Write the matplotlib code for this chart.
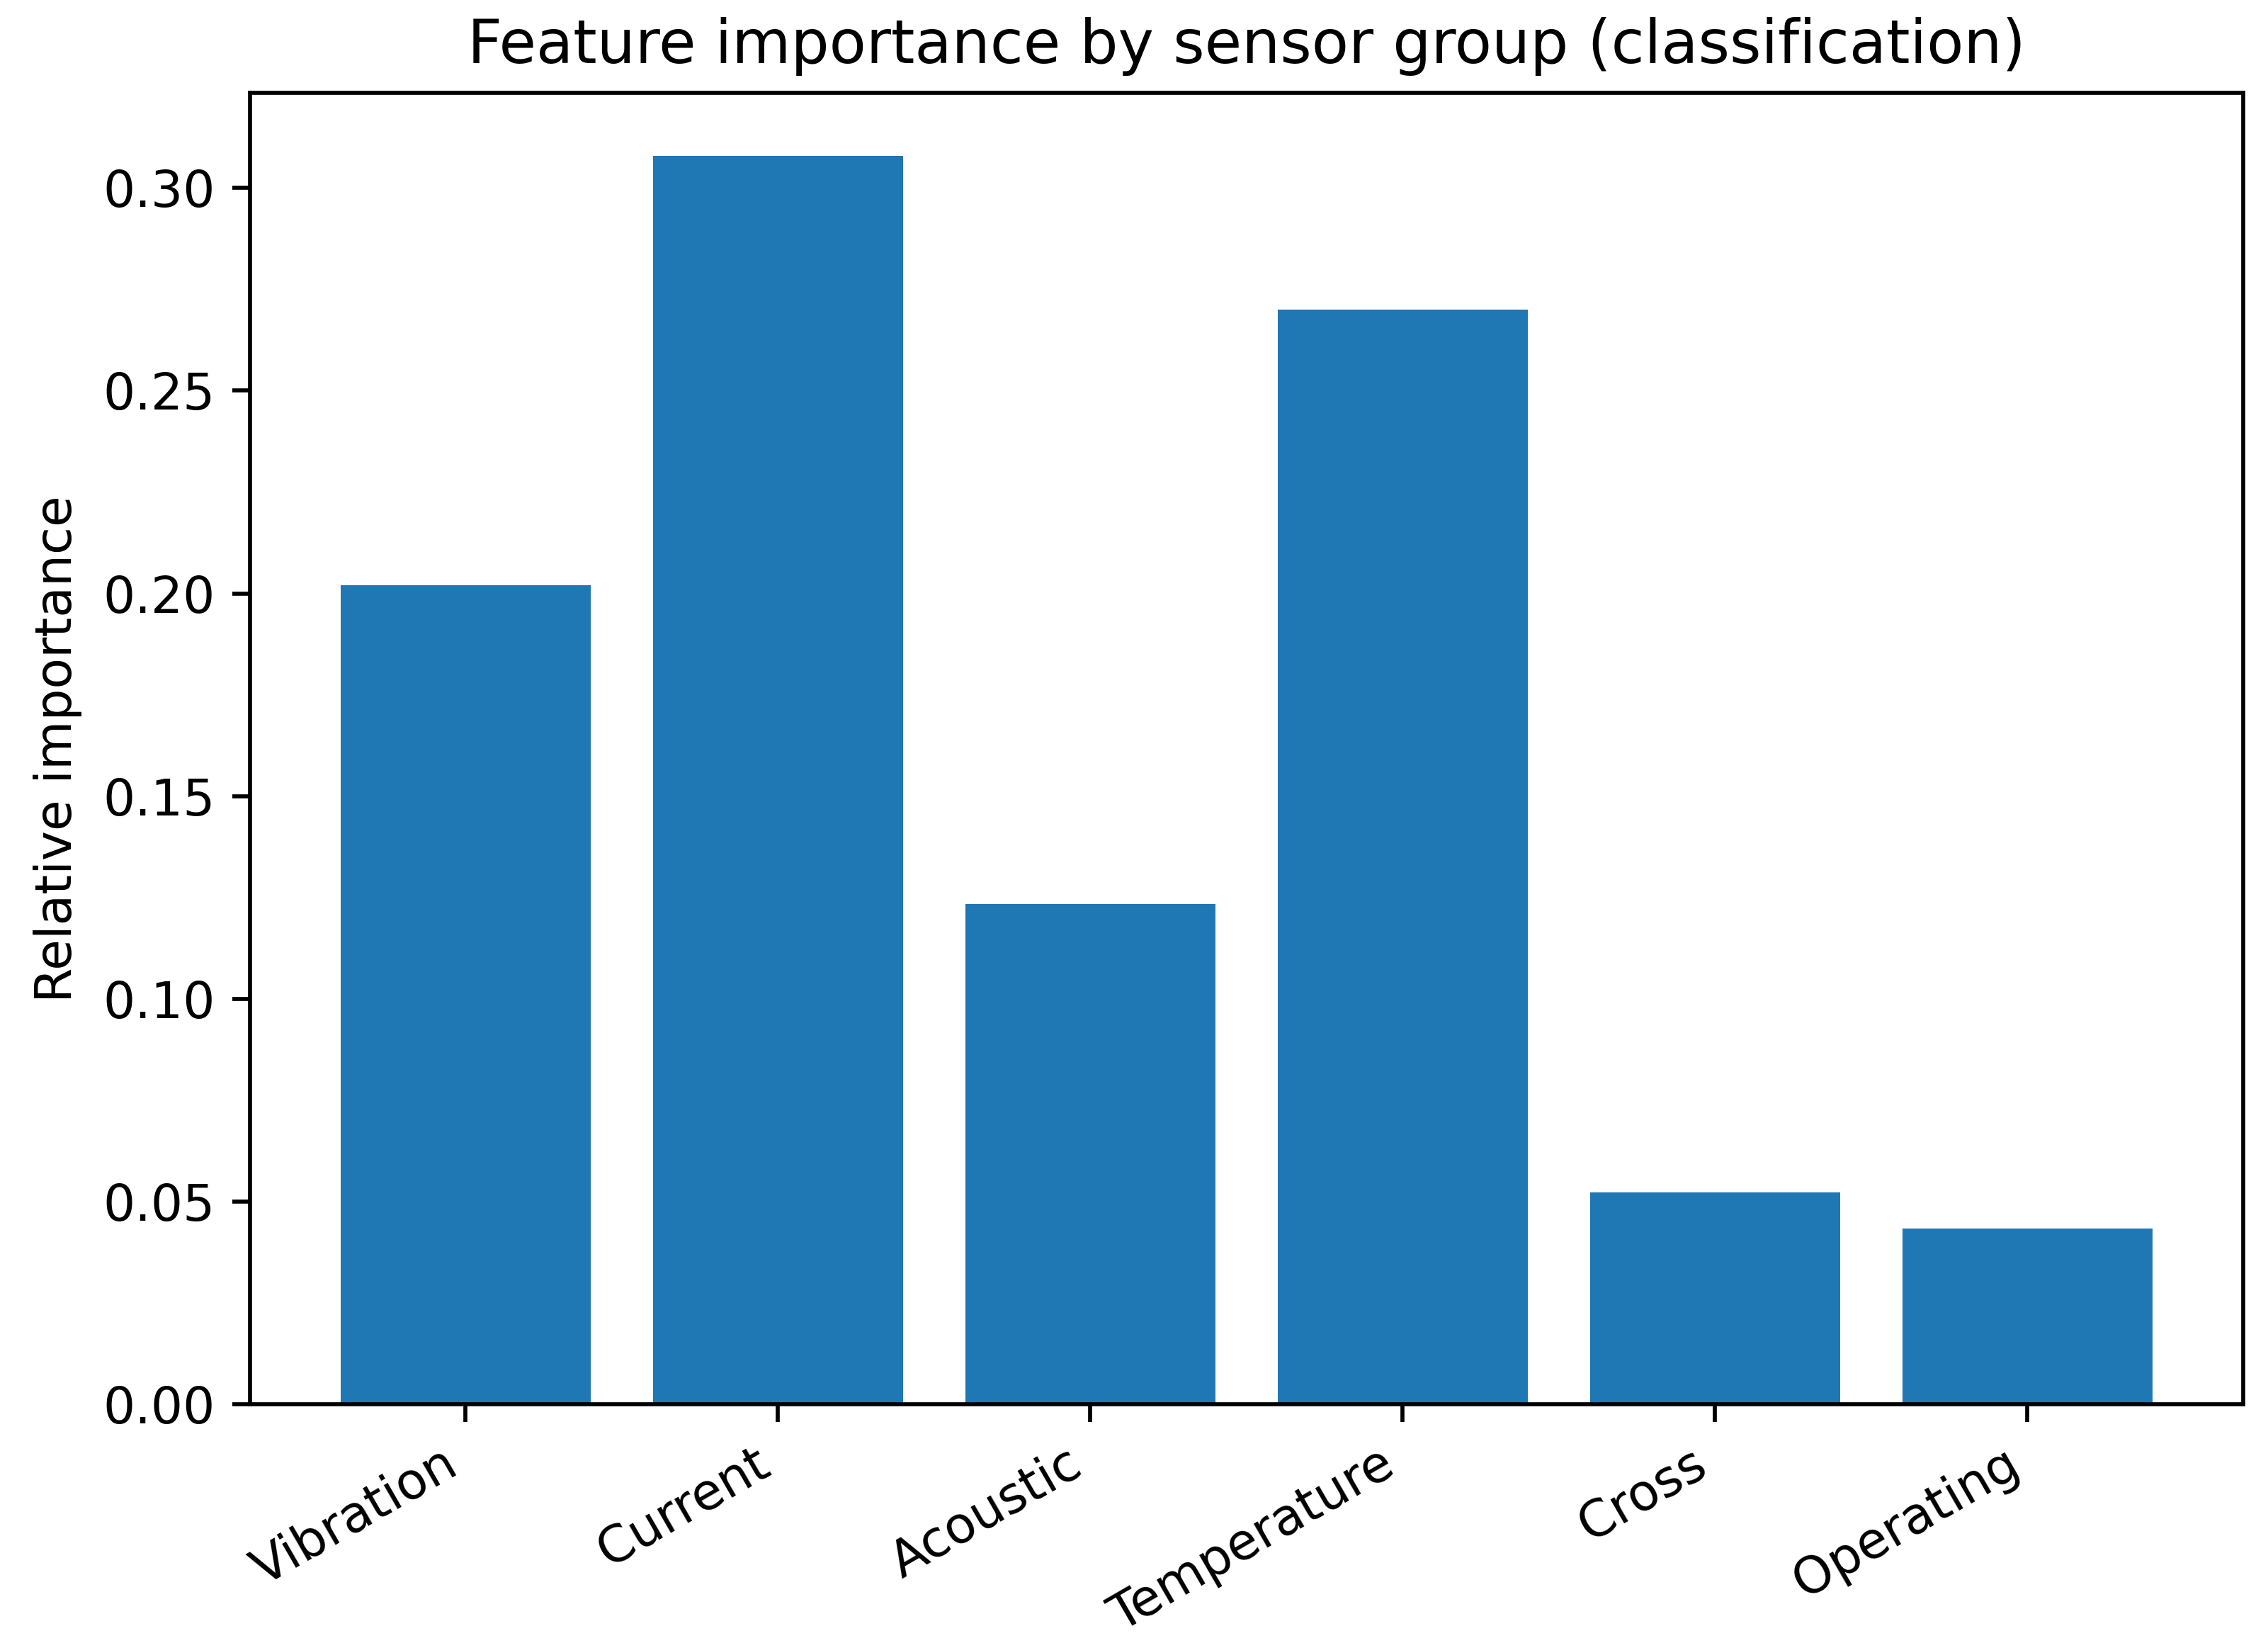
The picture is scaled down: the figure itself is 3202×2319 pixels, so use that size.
import matplotlib
matplotlib.use("Agg")
import matplotlib.pyplot as plt

groups = ["Vibration", "Current", "Acoustic", "Temperature", "Cross", "Operating"]
importance = [0.2021, 0.3080, 0.1234, 0.2700, 0.0522, 0.0433]


def main():
    dpi = 512
    fig = plt.figure(figsize=(3202 / dpi, 2319 / dpi), dpi=dpi)
    ax = fig.add_axes([0.1103, 0.1453, 0.989 - 0.1103, 0.9433 - 0.1453])
    ax.bar(groups, importance, color="#1f77b4")
    ax.set_ylabel("Relative importance")
    ax.set_title("Feature importance by sensor group (classification)")
    plt.setp(ax.get_xticklabels(), rotation=30, ha="right")
    fig.savefig("out.png", dpi=dpi)


if __name__ == "__main__":
    main()
